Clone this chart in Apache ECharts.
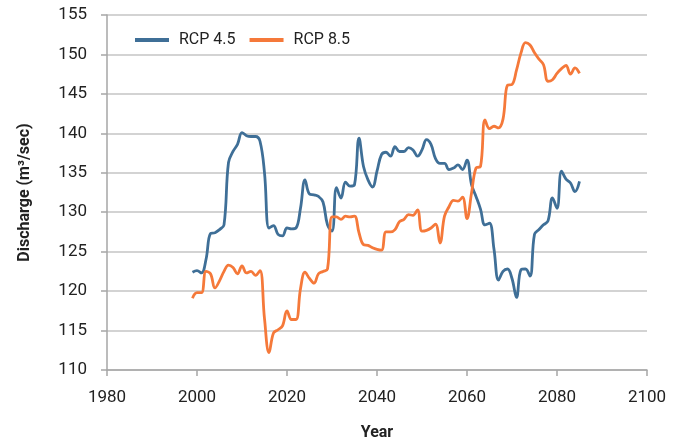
<!DOCTYPE html>
<html>
<head>
<meta charset="utf-8">
<script src="https://cdn.jsdelivr.net/npm/echarts@6/dist/echarts.min.js"></script>
<style>
  html, body { margin: 0; padding: 0; background: #fff; }
  #chart { width: 683px; height: 440px; }
</style>
</head>
<body>
<div id="chart"></div>
<script>
// Annual river discharge projections (m³/sec) under two climate scenarios
const years = [
  1999, 2000, 2001, 2002, 2003, 2004, 2005, 2006, 2007, 2008,
  2009, 2010, 2011, 2012, 2013, 2014, 2015, 2016, 2017, 2018,
  2019, 2020, 2021, 2022, 2023, 2024, 2025, 2026, 2027, 2028,
  2029, 2030, 2031, 2032, 2033, 2034, 2035, 2036, 2037, 2038,
  2039, 2040, 2041, 2042, 2043, 2044, 2045, 2046, 2047, 2048,
  2049, 2050, 2051, 2052, 2053, 2054, 2055, 2056, 2057, 2058,
  2059, 2060, 2061, 2062, 2063, 2064, 2065, 2066, 2067, 2068,
  2069, 2070, 2071, 2072, 2073, 2074, 2075, 2076, 2077, 2078,
  2079, 2080, 2081, 2082, 2083, 2084, 2085
];

const rcp45 = [
  122.4, 122.6, 122.3, 124.0, 127.3, 127.4, 127.8, 128.4, 136.3, 137.7,
  138.6, 140.1, 139.7, 139.6, 139.6, 139.0, 135.0, 128.0, 128.3, 127.2,
  127.0, 128.0, 127.9, 128.0, 130.5, 134.1, 132.3, 132.2, 132.0, 131.3,
  128.4, 127.6, 133.1, 131.8, 133.8, 133.3, 133.5, 139.4, 135.8, 134.1,
  133.2, 135.2, 137.3, 137.6, 137.1, 138.3, 137.7, 137.7, 138.2, 137.9,
  137.1, 137.9, 139.2, 138.6, 136.8, 136.2, 136.2, 135.4, 135.6, 136.0,
  135.4, 136.6, 133.5, 132.0, 130.4, 128.4, 128.6, 125.3, 121.4, 122.5,
  122.8, 121.6, 119.2, 122.7, 122.8, 121.9, 127.2, 127.8, 128.4, 128.9,
  131.8, 130.5, 135.2, 134.2, 133.7, 132.6, 133.9
];

const rcp85 = [
  119.1, 119.8, 119.8, 122.5, 122.2, 120.4, 121.3, 122.5, 123.3, 123.0,
  122.2, 123.2, 122.3, 122.5, 122.0, 122.6, 116.5, 112.2, 114.7, 115.1,
  115.6, 117.5, 116.4, 116.4, 120.3, 122.4, 121.6, 121.0, 122.2, 122.5,
  122.8, 129.4, 129.4, 129.1, 129.5, 129.4, 129.5, 127.4, 125.9, 125.8,
  125.5, 125.3, 125.2, 127.5, 127.5, 127.8, 128.8, 129.1, 129.7, 129.6,
  130.3, 127.6, 127.7, 128.0, 128.5, 126.1, 129.5, 130.7, 131.5, 131.4,
  131.9, 129.2, 132.4, 135.6, 135.8, 141.7, 140.6, 140.9, 140.7, 141.8,
  146.1, 146.2, 148.0, 150.2, 151.5, 151.2, 150.2, 149.4, 148.7, 146.6,
  146.8, 147.6, 148.2, 148.6, 147.5, 148.3, 147.6
];

const seriesNames = ['RCP 4.5', 'RCP 8.5'];

const pairs = (vals) => years.map((y, i) => [y, vals[i]]);

const chart = echarts.init(document.getElementById('chart'), null, { renderer: 'canvas' });

const font = 'Roboto, "Liberation Sans", sans-serif';

chart.setOption({
  animation: false,
  backgroundColor: '#ffffff',
  grid: { left: 107, right: 36, top: 15, bottom: 70, containLabel: false, outerBoundsMode: 'none' },
  legend: {
    data: seriesNames,
    left: 130,
    top: 27,
    icon: 'rect',
    itemWidth: 34,
    itemHeight: 4,
    itemGap: 14,
    textStyle: { fontFamily: font, fontSize: 16, color: '#222', padding: [0, 0, 0, 5] }
  },
  xAxis: {
    type: 'value',
    min: 1980,
    max: 2100,
    interval: 20,
    name: 'Year',
    nameLocation: 'middle',
    nameGap: 55,
    nameTextStyle: { fontFamily: font, fontSize: 16, fontWeight: 'bold', color: '#222' },
    axisLine: { show: true, lineStyle: { color: '#a6a6a6', width: 1.5 } },
    axisTick: { show: true, length: 6, lineStyle: { color: '#a6a6a6', width: 1.5 } },
    axisLabel: { fontFamily: font, fontSize: 17, color: '#222', margin: 19, formatter: (v) => String(v) },
    splitLine: { show: false }
  },
  yAxis: {
    type: 'value',
    min: 110,
    max: 155,
    interval: 5,
    name: 'Discharge (m³/sec)',
    nameLocation: 'middle',
    nameRotate: 90,
    nameGap: 74,
    nameTextStyle: { fontFamily: font, fontSize: 16, fontWeight: 'bold', color: '#222' },
    axisLine: { show: true, lineStyle: { color: '#a6a6a6', width: 1.5 } },
    axisTick: { show: true, length: 6, lineStyle: { color: '#a6a6a6', width: 1.5 } },
    axisLabel: { fontFamily: font, fontSize: 17, color: '#222', margin: 20 },
    splitLine: { show: true, lineStyle: { color: '#c4c4c4', width: 1.5 } }
  },
  series: [
    {
      name: seriesNames[0],
      type: 'line',
      data: pairs(rcp45),
      smooth: 0.4,
      showSymbol: false,
      lineStyle: { color: '#3f6f97', width: 2.8 },
      itemStyle: { color: '#3f6f97' }
    },
    {
      name: seriesNames[1],
      type: 'line',
      data: pairs(rcp85),
      smooth: 0.4,
      showSymbol: false,
      lineStyle: { color: '#f5793a', width: 2.8 },
      itemStyle: { color: '#f5793a' }
    }
  ]
});
</script>
</body>
</html>
